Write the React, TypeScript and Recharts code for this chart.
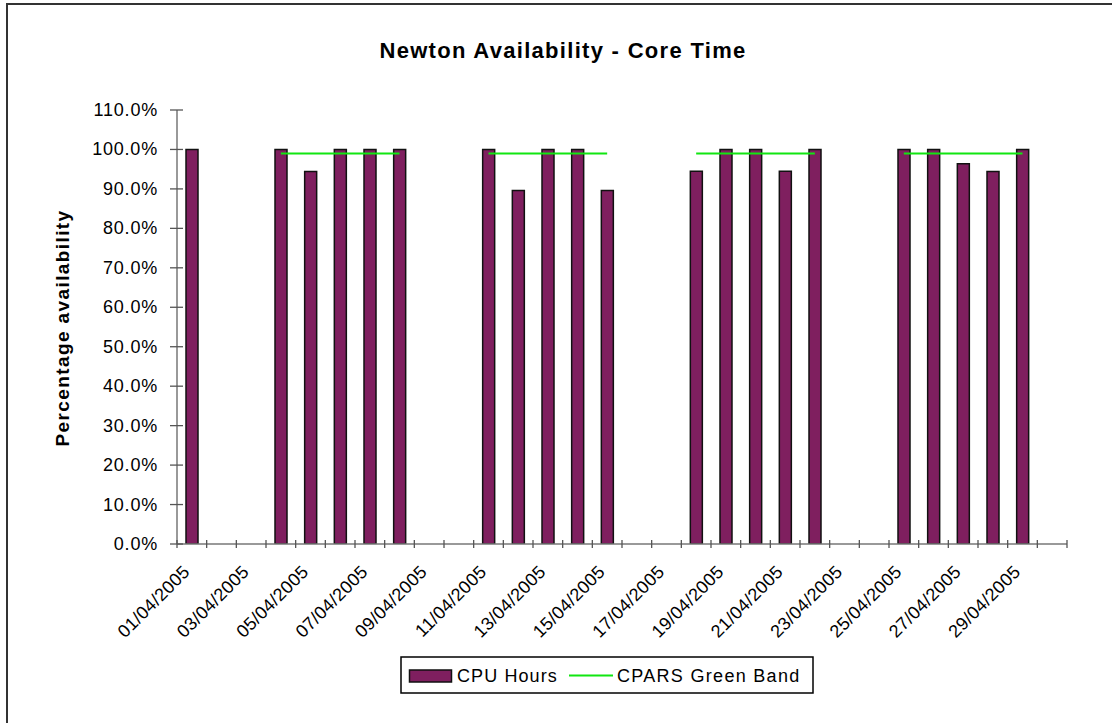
import React from "react";
import { ComposedChart, Bar, Line, XAxis, YAxis } from "recharts";

const dates = [
  "01/04/2005", "02/04/2005", "03/04/2005", "04/04/2005", "05/04/2005",
  "06/04/2005", "07/04/2005", "08/04/2005", "09/04/2005", "10/04/2005",
  "11/04/2005", "12/04/2005", "13/04/2005", "14/04/2005", "15/04/2005",
  "16/04/2005", "17/04/2005", "18/04/2005", "19/04/2005", "20/04/2005",
  "21/04/2005", "22/04/2005", "23/04/2005", "24/04/2005", "25/04/2005",
  "26/04/2005", "27/04/2005", "28/04/2005", "29/04/2005", "30/04/2005",
];

const cpuHours: (number | null)[] = [
  100, null, null, 100, 94.4, 100, 100, 100, null, null,
  100, 89.6, 100, 100, 89.6, null, null, 94.5, 100, 100,
  94.5, 100, null, null, 100, 100, 96.4, 94.4, 100, null,
];

const greenBand: (number | null)[] = [
  null, null, null, 99, 99, 99, 99, 99, null, null,
  99, 99, 99, 99, 99, null, null, 99, 99, 99,
  99, 99, null, null, 99, 99, 99, 99, 99, null,
];

const yTicks = [0, 10, 20, 30, 40, 50, 60, 70, 80, 90, 100, 110];

const data = dates.map((d, i) => ({ date: d, cpu: cpuHours[i], band: greenBand[i] }));

const FONT = "'Liberation Sans', Arial, Helvetica, sans-serif";
const BAR_COLOR = "#7F1F5F";
const GREEN = "#11E611";
const AXIS = "#777777";

function XTick(props: any) {
  const { x, y, payload } = props;
  const i = payload?.index ?? props.index ?? 0;
  const half = payload && payload.offset ? payload.offset : 14.83;
  const showLabel = i % 2 === 0;
  const lx = x - 1;
  const ly = y + 29;
  return (
    <g>
      <line x1={x - half} x2={x - half} y1={y - 4} y2={y + 4} stroke="#555" strokeWidth={1.3} />
      {i === dates.length - 1 && (
        <line x1={x + half} x2={x + half} y1={y - 4} y2={y + 4} stroke="#555" strokeWidth={1.3} />
      )}
      {showLabel && (
        <text
          x={lx}
          y={ly}
          transform={`rotate(-45, ${lx}, ${ly})`}
          textAnchor="end"
          fontFamily={FONT}
          fontSize={18}
          letterSpacing={0.3}
          fill="#000"
        >
          {payload.value}
        </text>
      )}
    </g>
  );
}

function YTick(props: any) {
  const { x, y, payload } = props;
  return (
    <g>
      <line x1={x - 7} x2={x + 6} y1={y} y2={y} stroke="#555" strokeWidth={1.3} />
      <text
        x={x - 19}
        y={y + 6}
        textAnchor="end"
        fontFamily={FONT}
        fontSize={18}
        letterSpacing={0.8}
        fill="#000"
      >
        {Number(payload.value).toFixed(1) + "%"}
      </text>
    </g>
  );
}

export default function App() {
  return (
    <div
      style={{
        position: "absolute",
        left: 0,
        top: 0,
        width: 1112,
        height: 723,
        overflow: "hidden",
        background: "#fff",
      }}
    >
      <div
        style={{
          position: "absolute",
          left: 6,
          top: 3,
          width: 1200,
          height: 800,
          borderLeft: "2px solid #333",
          borderTop: "2px solid #333",
        }}
      />
      <div style={{ position: "absolute", left: 0, top: 0 }}>
        <ComposedChart
          width={1112}
          height={723}
          data={data}
          margin={{ top: 110, left: 77, right: 45, bottom: 79 }}
        >
          <XAxis
            dataKey="date"
            interval={0}
            height={100}
            tickSize={0}
            tickMargin={0}
            tickLine={false}
            axisLine={{ stroke: AXIS, strokeWidth: 1.5 }}
            tick={<XTick />}
          />
          <YAxis
            domain={[0, 110]}
            ticks={yTicks}
            width={100}
            tickSize={0}
            tickMargin={0}
            tickLine={false}
            axisLine={{ stroke: AXIS, strokeWidth: 1.5 }}
            tick={<YTick />}
            allowDataOverflow
          />
          <Bar
            dataKey="cpu"
            barSize={12}
            fill={BAR_COLOR}
            stroke="#111"
            strokeWidth={1.5}
            isAnimationActive={false}
          />
          <Line
            dataKey="band"
            stroke={GREEN}
            strokeWidth={2}
            dot={false}
            activeDot={false}
            connectNulls={false}
            isAnimationActive={false}
          />
        </ComposedChart>
      </div>
      <svg
        width={1112}
        height={723}
        style={{ position: "absolute", left: 0, top: 0, pointerEvents: "none" }}
      >
        <text
          x={563}
          y={58}
          textAnchor="middle"
          fontFamily={FONT}
          fontWeight="bold"
          fontSize={22}
          letterSpacing={1.3}
          fill="#000"
        >
          Newton Availability - Core Time
        </text>
        <text
          x={69}
          y={328}
          transform="rotate(-90, 69, 328)"
          textAnchor="middle"
          fontFamily={FONT}
          fontWeight="bold"
          fontSize={19}
          letterSpacing={1.4}
          fill="#000"
        >
          Percentage availability
        </text>
        <rect x={401} y={657} width={412} height={36} fill="#fff" stroke="#000" strokeWidth={1.5} />
        <rect x={409.5} y={670} width={42} height={12} fill={BAR_COLOR} stroke="#111" strokeWidth={1.5} />
        <text x={457} y={682} fontFamily={FONT} fontSize={18} letterSpacing={1.1} fill="#000">
          CPU Hours
        </text>
        <line x1={569} x2={613} y1={675.5} y2={675.5} stroke={GREEN} strokeWidth={2} />
        <text x={617} y={682} fontFamily={FONT} fontSize={18} letterSpacing={1.3} fill="#000">
          CPARS Green Band
        </text>
      </svg>
    </div>
  );
}
